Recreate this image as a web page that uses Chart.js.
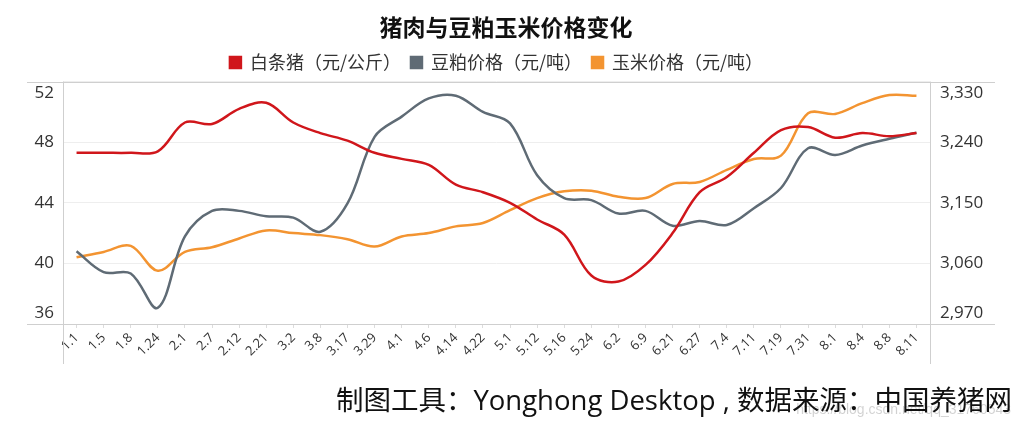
<!DOCTYPE html>
<html lang="zh">
<head>
<meta charset="utf-8">
<title>猪肉与豆粕玉米价格变化</title>
<script src="https://cdn.jsdelivr.net/npm/chart.js@4.4.1/dist/chart.umd.min.js"></script>
<style>
  html, body { margin: 0; padding: 0; background: #fff; }
  #wrap { position: relative; width: 1033px; height: 431px; }
  #grafico { position: absolute; left: 0; top: 0; }
  #fonte {
    position: absolute; right: 21px; top: 380px;
    font-family: "Open Sans", "Noto Sans CJK SC", sans-serif;
    font-size: 27.5px; color: #111; white-space: nowrap; line-height: 40px;
  }
  #marca {
    position: absolute; right: 22px; top: 401px;
    font-family: "Liberation Sans", sans-serif;
    font-size: 14px; color: rgba(0,0,0,0.18); white-space: nowrap;
  }
</style>
</head>
<body>
<div id="wrap">
  <canvas id="grafico" width="1033" height="431"></canvas>
  <div id="fonte">制图工具：Yonghong Desktop , 数据来源：中国养猪网</div>
  <div id="marca">https://blog.csdn.net/qq_31760543</div>
</div>
<script>
// categorias (datas)
const labels = ['1.1','1.5','1.8','1.24','2.1','2.7','2.12','2.21','3.2','3.8','3.17','3.29',
  '4.1','4.6','4.14','4.22','5.1','5.12','5.16','5.24','6.2','6.9','6.21','6.27',
  '7.4','7.11','7.19','7.31','8.1','8.4','8.8','8.11'];

// séries
const porco = [47.3,47.3,47.3,47.4,49.3,49.2,50.2,50.6,49.3,48.6,48.1,47.3,
  46.9,46.5,45.2,44.7,44.0,42.9,41.9,39.2,38.8,39.9,42.0,44.7,
  45.7,47.3,48.8,49.0,48.3,48.6,48.4,48.6];
const farelo = [3078,3047,3045,2994,3100,3138,3138,3130,3128,3107,3149,3248,
  3278,3305,3309,3285,3268,3191,3157,3154,3134,3138,3116,3123,
  3117,3142,3172,3231,3221,3235,3245,3254];
const milho = [3069,3077,3086,3049,3077,3084,3097,3109,3105,3102,3096,3085,
  3100,3105,3115,3120,3139,3157,3167,3168,3159,3157,3178,3181,
  3199,3215,3220,3283,3282,3298,3310,3309];

// rótulos dos eixos
const ticksEsq = [36, 40, 44, 48, 52];
const ticksDir = [2970, 3060, 3150, 3240, 3330];

document.addEventListener('DOMContentLoaded', () => {
  const fonteNum = '"Open Sans", "Noto Sans CJK SC", sans-serif';
  const fonteCJK = '"Noto Sans CJK SC", sans-serif';

  // moldura + rótulos dos eixos Y (os das pontas ficam para dentro)
  const moldura = {
    id: 'moldura',
    afterDraw(chart) {
      const { ctx, chartArea: a, scales } = chart;
      ctx.save();
      ctx.strokeStyle = '#cfcfcf';
      ctx.lineWidth = 1;
      ctx.beginPath();
      ctx.moveTo(27, Math.round(a.top) + 0.5); ctx.lineTo(995, Math.round(a.top) + 0.5);
      ctx.moveTo(27, Math.round(a.bottom) + 0.5); ctx.lineTo(995, Math.round(a.bottom) + 0.5);
      ctx.moveTo(Math.round(a.left) + 0.5, a.top); ctx.lineTo(Math.round(a.left) + 0.5, 364);
      ctx.moveTo(Math.round(a.right) + 0.5, a.top); ctx.lineTo(Math.round(a.right) + 0.5, 364);
      ctx.stroke();

      ctx.fillStyle = '#333';
      ctx.font = '17px ' + fonteNum;
      ctx.textBaseline = 'middle';
      const desloc = (i, n) => (i === 0 ? -11 : (i === n - 1 ? 12 : 0));
      ctx.textAlign = 'right';
      ticksEsq.forEach((v, i) => {
        ctx.fillText(String(v), a.left - 9, scales.y.getPixelForValue(v) + desloc(i, ticksEsq.length));
      });
      ctx.textAlign = 'left';
      ticksDir.forEach((v, i) => {
        ctx.fillText(v.toLocaleString('en-US'), a.right + 10, scales.y1.getPixelForValue(v) + desloc(i, ticksDir.length));
      });
      ctx.restore();
    }
  };

  const serie = (label, data, cor, eixo) => ({
    label, data, yAxisID: eixo,
    borderColor: cor, backgroundColor: cor,
    borderWidth: 2.5, pointRadius: 0, pointHoverRadius: 0,
    tension: 0.35, fill: false
  });

  new Chart(document.getElementById('grafico'), {
    type: 'line',
    data: {
      labels,
      datasets: [
        serie('白条猪（元/公斤）', porco, '#d0161b', 'y'),
        serie('豆粕价格（元/吨）', farelo, '#5f6b75', 'y1'),
        serie('玉米价格（元/吨）', milho, '#f39431', 'y1')
      ]
    },
    options: {
      responsive: false,
      animation: false,
      layout: { padding: { left: 0, right: 21, top: 0, bottom: 0 } },
      plugins: {
        title: {
          display: true,
          text: '猪肉与豆粕玉米价格变化',
          color: '#111',
          font: { family: fonteCJK, size: 23, weight: 'bold' },
          padding: { top: 13, bottom: 3 }
        },
        legend: {
          fullSize: false,
          labels: {
            color: '#333',
            font: { family: fonteCJK, size: 18 },
            boxWidth: 11, boxHeight: 11, padding: 10
          }
        },
        tooltip: { enabled: false }
      },
      scales: {
        x: {
          offset: true,
          grid: { drawOnChartArea: false, drawTicks: true, tickLength: 4, color: '#dcdcdc' },
          border: { display: false },
          ticks: {
            autoSkip: false, minRotation: 45, maxRotation: 45, padding: 2,
            color: '#333', font: { family: fonteNum, size: 13 }
          },
          afterFit: s => { s.height = 107; }
        },
        y: {
          position: 'left',
          min: 36, max: 52,
          ticks: { display: false, stepSize: 4 },
          grid: { color: '#eeeeee', drawTicks: false },
          border: { display: false },
          afterFit: s => { s.width = 63; }
        },
        y1: {
          position: 'right',
          min: 2970, max: 3330,
          ticks: { display: false, stepSize: 90 },
          grid: { display: false },
          border: { display: false },
          afterFit: s => { s.width = 82; }
        }
      }
    },
    plugins: [moldura]
  });
});
</script>
</body>
</html>
